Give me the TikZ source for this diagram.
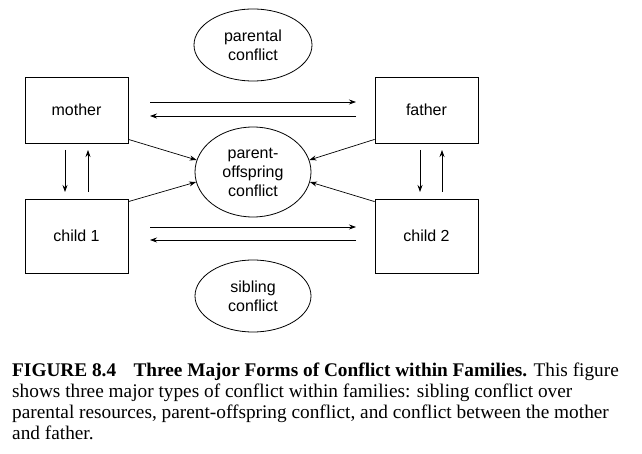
\documentclass[tikz,border=0pt]{standalone}
\usepackage{fontspec}
\setmainfont{Liberation Serif}
\newfontfamily\diagfont{Liberation Sans}
\usetikzlibrary{arrows.meta,shapes.geometric}
\begin{document}
\begin{tikzpicture}[x=1pt,y=-1pt,
  boxn/.style={draw,line width=0.8pt,minimum width=103pt,inner sep=0pt,font=\diagfont\fontsize{16}{19}\selectfont},
  ell/.style={draw,line width=0.8pt,ellipse,inner sep=0pt,minimum width=116pt,align=center,font=\diagfont\fontsize{16}{19}\selectfont},
  arr/.style={-{Stealth[length=7pt,width=5pt]},line width=0.7pt}]
\useasboundingbox (0,0) rectangle (642,454);
\fill[white] (0,0) rectangle (642,454);
\node[boxn,minimum height=66pt] (mo) at (76.5,110) {mother};
\node[boxn,minimum height=66pt] (fa) at (426.5,110) {father};
\node[boxn,minimum height=74pt] (c1) at (76.5,236) {child 1};
\node[boxn,minimum height=74pt] (c2) at (426.5,236) {child 2};
\node[ell,minimum width=118pt,minimum height=72pt] (pc) at (253,45) {parental\\conflict};
\node[ell,minimum height=90pt] (po) at (253,172) {parent-\\offspring\\conflict};
\node[ell,minimum height=72pt] (sc) at (253,296) {sibling\\conflict};
\coordinate (a1) at (150,102); \coordinate (a2) at (356,102);
\coordinate (b1) at (356,116); \coordinate (b2) at (150,116);
\draw[arr] (a1) -- (a2); \draw[arr] (b1) -- (b2);
\coordinate (c1a) at (150,227); \coordinate (c1b) at (356,227);
\coordinate (c2a) at (356,240); \coordinate (c2b) at (150,240);
\draw[arr] (c1a) -- (c1b); \draw[arr] (c2a) -- (c2b);
\draw[arr] (65,150) -- (65,192); \draw[arr] (88,192) -- (88,150);
\draw[arr] (420,150) -- (420,192); \draw[arr] (442,192) -- (442,150);
\draw[arr] ([yshift=4pt]mo.south east) -- (po.168);
\draw[arr] ([yshift=-3pt]c1.north east) -- (po.190);
\draw[arr] ([yshift=4pt]fa.south west) -- (po.12);
\draw[arr] ([yshift=-3pt]c2.north west) -- (po.-10);
\node[anchor=north west,align=left,inner sep=0pt,font=\fontsize{19.3}{21}\selectfont] (cap) at (12,363)
{\textbf{FIGURE 8.4\hspace{0.9em}Three Major Forms of Conflict within Families.} This figure\\
shows three major types of conflict within families: sibling conflict over\\
parental resources, parent-offspring conflict, and conflict between the mother\\
and father.};
\end{tikzpicture}
\end{document}
